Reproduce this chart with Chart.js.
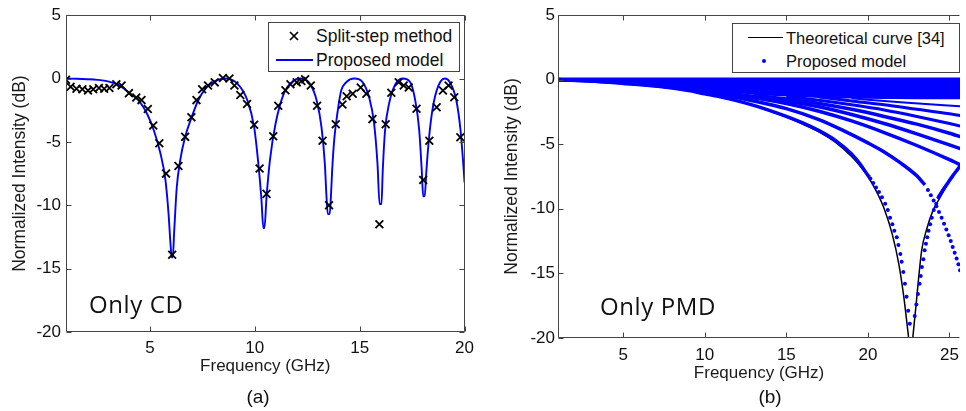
<!DOCTYPE html>
<html lang="en">
<head>
<meta charset="UTF-8">
<title>Normalized intensity vs frequency: only CD / only PMD</title>
<script src="https://cdn.jsdelivr.net/npm/chart.js"></script>
<style>
  html, body { margin: 0; padding: 0; background: #fff; overflow: hidden; }
  body { position: relative; width: 966px; height: 411px; font-family: "Liberation Sans", Arial, sans-serif; color: #111; }
  canvas { position: absolute; top: 0; }
  #cdChart { left: 0; }
  #pmdChart { left: 480px; }
  .legend { position: absolute; box-sizing: border-box; border: 1px solid #444; background: #fff; }
  .legend span { position: absolute; white-space: nowrap; line-height: 20px; }
  .note { position: absolute; font-family: "Open Sans", sans-serif; font-size: 24px; line-height: 24px; letter-spacing: 0.6px; white-space: nowrap; color: #111; }
  .caption { position: absolute; width: 40px; text-align: center; font-size: 19px; line-height: 22px; }
</style>
</head>
<body>
<canvas id="cdChart" width="480" height="411"></canvas>
<canvas id="pmdChart" width="486" height="411"></canvas>

<!-- legends -->
<div class="legend" style="left:268px; top:22px; width:192px; height:50px; font-size:17.5px;">
  <svg style="position:absolute; left:20px; top:8px;" width="10" height="10"><path d="M1 1L9 9M9 1L1 9" stroke="#000" stroke-width="1.7"/></svg>
  <span style="left:47px; top:3px;">Split-step method</span>
  <div style="position:absolute; left:7px; top:36px; width:37px; border-top:2px solid #0000ff;"></div>
  <span style="left:47px; top:27px;">Proposed model</span>
</div>
<div class="legend" style="left:732px; top:23px; width:228px; height:50px; font-size:16.5px;">
  <div style="position:absolute; left:15px; top:13px; width:35px; border-top:1.5px solid #000;"></div>
  <span style="left:53px; top:4px;">Theoretical curve [34]</span>
  <div style="position:absolute; left:29px; top:35px; width:4px; height:4px; border-radius:2px; background:#0000ff;"></div>
  <span style="left:53px; top:27px;">Proposed model</span>
</div>

<div class="note" style="left:89px; top:292px;">Only CD</div>
<div class="note" style="left:600px; top:294px;">Only PMD</div>
<div class="caption" style="left:238px; top:386px;">(a)</div>
<div class="caption" style="left:750px; top:386px;">(b)</div>

<script>
// ---- tick labels ----
const yTicks = [-20, -15, -10, -5, 0, 5];
const xTicksCD = [5, 10, 15, 20];
const xTicksPMD = [5, 10, 15, 20, 25];

// ---- (a) only CD: proposed model curve ----
const cdFreq = [1.0, 1.5, 2.0, 2.5, 3.0, 3.5, 3.85, 4.2, 4.5, 4.87, 5.19, 5.5, 5.74, 5.89, 5.98, 6.04, 6.09, 6.16, 6.28, 6.44,
  6.68, 6.99, 7.3, 7.7, 8.1, 8.6, 9.18, 9.65, 9.97, 10.17, 10.31, 10.41, 10.46, 10.56, 10.72, 10.99, 11.38, 11.85, 12.2, 12.63,
  12.95, 13.18, 13.34, 13.42, 13.48, 13.57, 13.63, 13.69, 13.8, 13.95, 14.12, 14.36, 14.75, 15.14, 15.45, 15.69, 15.85, 15.95, 16.04, 16.1,
  16.21, 16.4, 16.63, 17.05, 17.41, 17.65, 17.84, 17.96, 18.03, 18.1, 18.18, 18.28, 18.44, 18.67, 19.05, 19.3, 19.61, 19.81, 19.92, 20.0];
const cdModel = [0, -0.02, -0.05, -0.1, -0.22, -0.5, -0.9, -1.35, -1.8, -2.8, -4.1, -5.9, -8.0, -10.7, -13.0, -14.1, -14.1, -12.0, -8.6, -6.5,
  -4.6, -3.05, -1.73, -0.7, -0.2, 0, -0.42, -1.73, -3.84, -6.73, -9.36, -11.8, -11.8, -9.36, -6.47, -3.57, -1.21, -0.16, 0, -0.42,
  -1.73, -3.84, -6.73, -9.36, -10.7, -10.7, -9.3, -7.2, -4.6, -2.6, -0.95, -0.29, 0, -0.29, -1.47, -3.57, -6.73, -9.9, -9.9, -7.3,
  -4.1, -2.0, -0.69, 0, -0.29, -1.73, -4.1, -7.26, -9.3, -9.3, -7.3, -5.15, -2.79, -0.95, 0, -0.29, -1.73, -4.1, -6.3, -8.2];

// ---- (a) only CD: split-step method samples ----
const ssFreq = [1.0, 1.22, 1.5, 1.78, 2.05, 2.3, 2.57, 2.82, 3.07, 3.4, 3.65, 4.0, 4.35, 4.6, 4.9, 5.16, 5.45, 5.77, 6.06, 6.36,
  6.68, 6.98, 7.22, 7.49, 7.77, 8.09, 8.48, 8.79, 9.03, 9.31, 9.63, 9.97, 10.23, 10.56, 10.88, 11.12, 11.46, 11.7, 12.0, 12.22,
  12.4, 12.67, 12.97, 13.23, 13.54, 13.86, 14.18, 14.38, 14.67, 15.05, 15.32, 15.61, 15.94, 16.24, 16.51, 16.86, 17.1, 17.34, 17.71, 18.03,
  18.32, 18.67, 18.97, 19.24, 19.51, 19.8];
const ssValues = [-0.1, -0.65, -0.8, -0.85, -0.95, -0.85, -0.75, -0.8, -0.75, -0.45, -0.55, -1.15, -1.5, -1.7, -2.4, -3.7, -5.1, -7.5, -13.9, -6.9,
  -4.6, -3.05, -1.7, -0.85, -0.55, -0.3, 0.05, 0.0, -0.55, -1.3, -2.0, -3.65, -7.1, -9.1, -4.55, -2.15, -0.92, -0.45, -0.3, -0.2,
  -0.05, -0.55, -2.15, -4.9, -10.0, -3.6, -2.05, -1.4, -1.2, -0.7, -1.2, -3.2, -11.5, -3.6, -1.12, -0.29, -0.55, -0.7, -2.39, -8.0,
  -4.9, -2.26, -0.95, -0.55, -1.47, -4.63];

// ---- (b) only PMD: theoretical curve (two branches around the null) ----
const theoryFreqL = [1, 5, 9, 11, 13, 15, 16, 17, 18, 19, 19.5, 20, 20.5, 21, 21.5, 21.9, 22.2, 22.5];
const theoryValL = [0, -0.3, -0.85, -1.35, -2.0, -2.9, -3.45, -4.05, -4.85, -5.95, -6.65, -7.5, -8.6, -10.0, -12.0, -14.3, -16.8, -20];
const theoryFreqR = [22.75, 22.95, 23.1, 23.3, 23.6, 24.0, 24.3, 24.8, 25.3, 25.7];
const theoryValR = [-20, -17.5, -15.5, -13.2, -11.6, -10.1, -9.4, -8.3, -7.3, -6.6];

// ---- (b) only PMD: proposed model point families ----
const bandFreq = [1, 3, 5, 7, 9, 11, 13, 15, 17, 19, 21, 23, 26];
const bandLow = [-0.05, -0.1, -0.22, -0.4, -0.62, -0.85, -1.05, -1.2, -1.3, -1.35, -1.38, -1.4, -1.4];
const bandTopFreq = [1, 26];
const bandTop = [0, 0];
const curveAFreq = [1, 3, 5, 7, 9, 10, 11, 12, 13, 14, 15, 16, 17, 18, 19, 19.5, 20, 20.1];
const curveA = [0, -0.1, -0.3, -0.5, -0.85, -1.1, -1.35, -1.65, -2.0, -2.4, -2.85, -3.35, -3.95, -4.7, -5.75, -6.5, -7.4, -7.55];
const dipLeftFreq = [20.15, 20.33, 20.5, 20.68, 20.86, 21.06, 21.22, 21.36, 21.5, 21.62, 21.77, 21.87, 21.99, 22.07, 22.17, 22.27, 22.37, 22.47, 22.57];
const dipLeft = [-7.65, -8.0, -8.35, -8.7, -9.1, -9.6, -10.1, -10.7, -11.2, -11.7, -12.2, -12.8, -13.5, -14.1, -14.9, -15.8, -16.8, -17.9, -18.9];
const dipRightFreq = [22.87, 22.97, 23.07, 23.17, 23.24, 23.31, 23.4, 23.48, 23.56, 23.64, 23.72, 23.82, 23.92, 24.04, 24.19, 24.33];
const dipRight = [-18.3, -17.4, -16.6, -15.8, -15.2, -14.5, -13.9, -13.2, -12.7, -12.2, -11.7, -11.2, -10.7, -10.1, -9.6, -9.1];
const riseFreq = [24.33, 24.6, 24.9, 25.2, 25.5, 25.8];
const rise = [-9.1, -8.55, -8.0, -7.45, -6.95, -6.45];
const curveBFreq = [1, 5, 9, 11, 13, 15, 17, 18.5, 20, 21, 22, 23, 23.5];
const curveB = [0, -0.25, -0.75, -1.15, -1.65, -2.25, -3.1, -3.95, -4.9, -5.6, -6.45, -7.45, -8.15];
const tailBFreq = [23.68, 23.86, 24.03, 24.2, 24.36, 24.52, 24.67, 24.81, 24.95, 25.08, 25.2, 25.32, 25.44, 25.55, 25.65];
const tailB = [-8.55, -8.95, -9.35, -9.8, -10.25, -10.7, -11.15, -11.6, -12.05, -12.5, -12.95, -13.4, -13.85, -14.3, -14.75];
const curveCFreq = [9, 11, 13, 15, 17, 19, 21, 23, 25, 26];
const curveC = [-0.7, -1.0, -1.4, -1.85, -2.45, -3.2, -4.1, -5.1, -6.2, -6.8];
const curveDFreq = [11, 13, 15, 17, 19, 21, 23, 25, 26];
const curveD = [-0.95, -1.3, -1.65, -2.1, -2.7, -3.4, -4.2, -5.05, -5.5];
const curveEFreq = [13, 15, 17, 19, 21, 23, 25, 26];
const curveE = [-1.2, -1.5, -1.85, -2.3, -2.85, -3.45, -4.15, -4.55];
const curveFFreq = [15, 17, 19, 21, 23, 25, 26];
const curveF = [-1.3, -1.6, -1.95, -2.35, -2.85, -3.4, -3.7];
const curveGFreq = [17, 19, 21, 23, 25, 26];
const curveG = [-1.35, -1.65, -1.95, -2.3, -2.65, -2.85];
const curveHFreq = [19, 22, 26];
const curveH = [-1.45, -1.75, -2.1];

const BLUE = '#0000ff';

function pts(xs, ys) {
  return xs.map((x, i) => ({ x: x, y: ys[i] }));
}

function blueLine(xs, ys, width) {
  return {
    data: pts(xs, ys), borderColor: BLUE, borderWidth: width, pointRadius: 0,
    cubicInterpolationMode: 'monotone', fill: false, order: 1
  };
}

function blueDots(xs, ys) {
  return {
    data: pts(xs, ys), showLine: false, pointRadius: 2, pointBorderWidth: 0,
    pointBackgroundColor: BLUE, order: 1
  };
}

// matlab-like box with inward ticks
const boxFrame = {
  id: 'boxFrame',
  afterDatasetsDraw(chart, args, opts) {
    const { ctx, chartArea: a, scales: { x, y } } = chart;
    const L = Math.round(a.left) + 0.5, R = Math.round(a.right) - 0.5;
    const T = Math.round(a.top) + 0.5, B = Math.round(a.bottom) - 0.5;
    ctx.save();
    ctx.strokeStyle = '#444';
    ctx.lineWidth = 1;
    ctx.beginPath();
    ctx.moveTo(R, T); ctx.lineTo(L, T); ctx.lineTo(L, B); ctx.lineTo(R, B);
    if (opts.right) { ctx.moveTo(R, T); ctx.lineTo(R, B); }
    x.ticks.forEach(t => {
      const px = Math.round(x.getPixelForValue(t.value)) + 0.5;
      ctx.moveTo(px, B); ctx.lineTo(px, B - 5);
      ctx.moveTo(px, T); ctx.lineTo(px, T + 5);
    });
    y.ticks.forEach(t => {
      const py = Math.round(y.getPixelForValue(t.value)) + 0.5;
      ctx.moveTo(L, py); ctx.lineTo(L + 5, py);
      if (opts.right) { ctx.moveTo(R, py); ctx.lineTo(R - 5, py); }
    });
    ctx.stroke();
    ctx.restore();
  }
};

Chart.defaults.font.family = "'Liberation Sans', Arial, sans-serif";
Chart.defaults.color = '#111';

function axes(xMin, xMax, xTicks, yWidth, xHeight, yTitlePad, xTitlePad, tickPadX, tickPadY) {
  return {
    x: {
      type: 'linear', min: xMin, max: xMax,
      afterBuildTicks: s => { s.ticks = xTicks.map(v => ({ value: v })); },
      afterFit: s => { s.height = xHeight; },
      grid: { display: false, drawTicks: false },
      border: { display: false },
      ticks: { font: { size: 17 }, padding: tickPadX, maxRotation: 0, color: '#111' },
      title: { display: true, text: 'Frequency (GHz)', font: { size: 17 }, color: '#1a1a1a', padding: { top: 0, bottom: xTitlePad } }
    },
    y: {
      type: 'linear', min: -20, max: 5,
      afterBuildTicks: s => { s.ticks = yTicks.map(v => ({ value: v })); },
      afterFit: s => { s.width = yWidth; },
      grid: { display: false, drawTicks: false },
      border: { display: false },
      ticks: { font: { size: 17 }, padding: tickPadY, color: '#111' },
      title: { display: true, text: 'Normalized Intensity (dB)', font: { size: 17.5 }, color: '#1a1a1a', padding: { top: yTitlePad, bottom: 0 } }
    }
  };
}

// (a) only CD
new Chart(document.getElementById('cdChart'), {
  type: 'line',
  data: {
    datasets: [
      {
        label: 'Split-step method', data: pts(ssFreq, ssValues), showLine: false,
        pointStyle: 'crossRot', pointRadius: 5.5, pointBorderWidth: 1.8, pointBorderColor: '#000', order: 0
      },
      {
        label: 'Proposed model', data: pts(cdFreq, cdModel), borderColor: BLUE, borderWidth: 1.9,
        pointRadius: 0, cubicInterpolationMode: 'monotone', fill: false, order: 1
      }
    ]
  },
  options: {
    responsive: false,
    animation: false,
    layout: { padding: { top: 15, right: 10, bottom: 0, left: 0 } },
    scales: axes(1, 20, xTicksCD, 66, 79, 9.5, 34, 6, 5),
    plugins: { legend: { display: false }, tooltip: { enabled: false }, boxFrame: { right: true } }
  },
  plugins: [boxFrame]
});

// (b) only PMD
const theoryStyle = { borderColor: '#000', borderWidth: 1.5, pointRadius: 0, cubicInterpolationMode: 'monotone', fill: false, order: 5 };
new Chart(document.getElementById('pmdChart'), {
  type: 'line',
  data: {
    datasets: [
      Object.assign({ label: 'Theoretical curve [34]', data: pts(theoryFreqL, theoryValL) }, theoryStyle),
      Object.assign({ label: 'Theoretical curve [34]', data: pts(theoryFreqR, theoryValR) }, theoryStyle),
      {
        label: 'Proposed model', data: pts(bandFreq, bandLow), borderColor: BLUE, borderWidth: 3,
        backgroundColor: BLUE, fill: 'origin', pointRadius: 0, cubicInterpolationMode: 'monotone', order: 2
      },
      blueLine(bandTopFreq, bandTop, 4),
      blueLine(curveAFreq, curveA, 3.5),
      blueLine(curveBFreq, curveB, 3.5),
      blueLine(curveCFreq, curveC, 3.5),
      blueLine(curveDFreq, curveD, 3.5),
      blueLine(curveEFreq, curveE, 3.5),
      blueLine(curveFFreq, curveF, 3),
      blueLine(curveGFreq, curveG, 3),
      blueLine(curveHFreq, curveH, 2),
      blueLine(riseFreq, rise, 3.5),
      blueDots(dipLeftFreq, dipLeft),
      blueDots(dipRightFreq, dipRight),
      blueDots(tailBFreq, tailB)
    ]
  },
  options: {
    responsive: false,
    animation: false,
    layout: { padding: { top: 15, right: 0, bottom: 0, left: 0 } },
    scales: axes(1, 25.65, xTicksPMD, 78, 73, 22, 27, 7, 3),
    plugins: { legend: { display: false }, tooltip: { enabled: false }, boxFrame: { right: false } }
  },
  plugins: [boxFrame]
});
</script>
</body>
</html>
